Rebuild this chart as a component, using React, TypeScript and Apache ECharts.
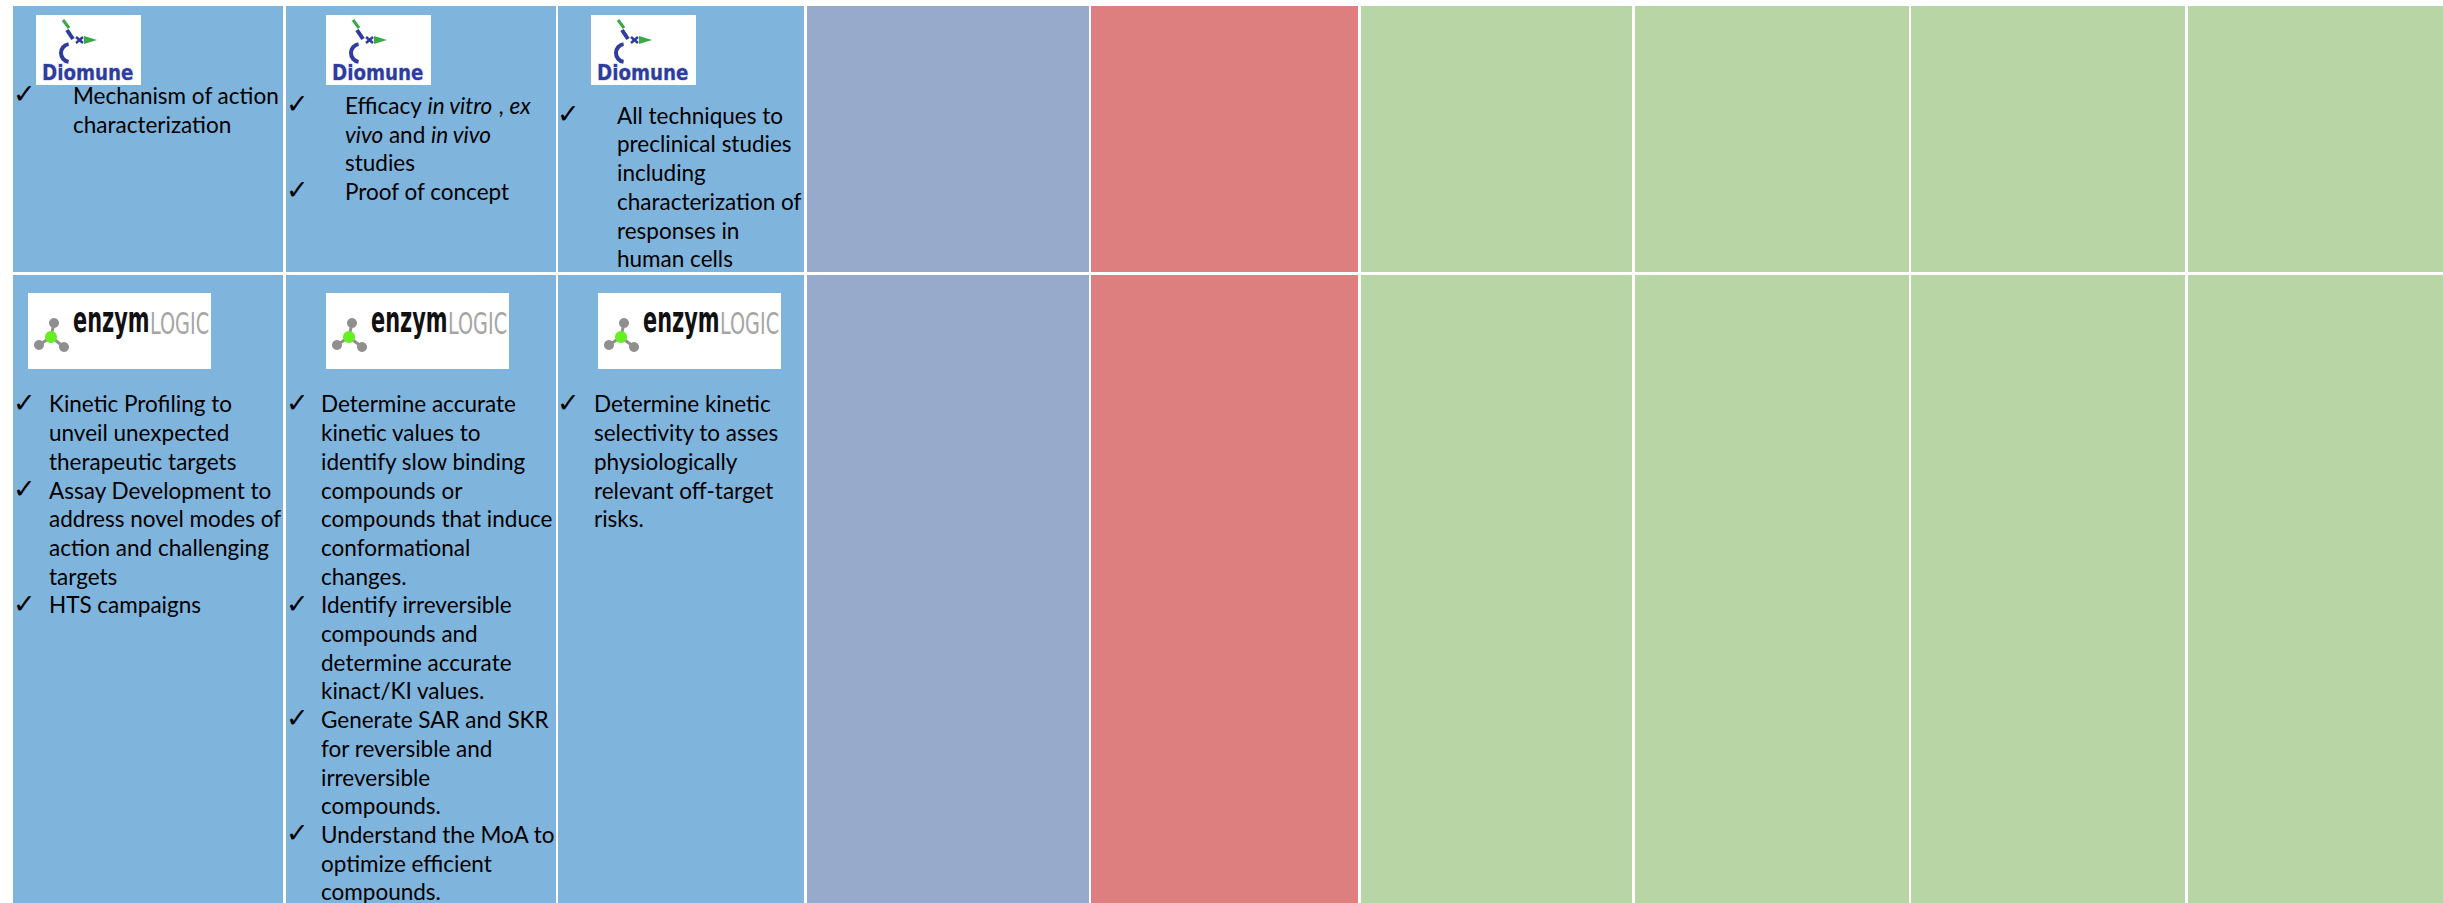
import React, { useEffect, useRef } from "react";
import * as echarts from "echarts";

// ---------- content ----------
const columnTones = ["blue", "blue", "blue", "lavender", "red", "green", "green", "green", "green"];

// each cell: list of bullet items, each item: list of lines ({i|..} = italic)
const diomuneCells: string[][][] = [
  [["Mechanism of action", "characterization"]],
  [
    ["Efficacy {i|in vitro} , {i|ex}", "{i|vivo} and {i|in vivo}", "studies"],
    ["Proof of concept"],
  ],
  [["All techniques to", "preclinical studies", "including", "characterization of", "responses in", "human cells"]],
];

const enzymlogicCells: string[][][] = [
  [
    ["Kinetic Profiling to", "unveil unexpected", "therapeutic targets"],
    ["Assay Development to", "address novel modes of", "action and challenging", "targets"],
    ["HTS campaigns"],
  ],
  [
    ["Determine accurate", "kinetic values to", "identify slow binding", "compounds or", "compounds that induce", "conformational", "changes."],
    ["Identify irreversible", "compounds and", "determine accurate", "kinact/KI values."],
    ["Generate SAR and SKR", "for reversible and", "irreversible", "compounds."],
    ["Understand the MoA to", "optimize efficient", "compounds."],
  ],
  [["Determine kinetic", "selectivity to asses", "physiologically", "relevant off-target", "risks."]],
];

const logoNames = ["Diomune", "enzym", "LOGIC"];

// ---------- layout / style ----------
const W = 2443;
const H = 903;
const COL_X = [13, 286, 558, 807, 1091, 1361, 1635, 1911, 2188];
const COL_W = [270, 270, 246, 282, 267, 271, 274, 274, 255];
const ROW_Y = [6, 275];
const ROW_H = [266, 640];
const FILL: Record<string, string> = {
  blue: "#7fb4dd",
  lavender: "#97aacb",
  red: "#de7f7f",
  green: "#b8d6a5",
};
const BODY_FONT = "Lato";
const FS = 22.5;
const STEP = 28.7;
const CENTRAL = 0.387 * FS;

const ROW1 = { textX: [73, 345, 617], checkX: [13, 286, 557], base: [104.3, 114.3, 124] };
const ROW2 = { textX: [49, 321, 594], checkX: [13, 286, 557], base: [412.7, 412.7, 412.7] };
const DIO_LOGO = { x: [36, 326, 591], y: 15 };
const ENZ_LOGO = { x: [28, 326, 598], y: 293 };

function cellTexts(items: string[][], textX: number, checkX: number, base: number) {
  const out: any[] = [];
  let li = 0;
  items.forEach((lines) => {
    lines.forEach((line, k) => {
      const b = base + li * STEP;
      if (k === 0) {
        out.push({
          type: "text",
          z: 10,
          style: {
            text: "\u2713",
            x: checkX,
            y: b - 10.5,
            fontFamily: "DejaVu Sans",
            fontSize: 27,
            fill: "#000",
            align: "left",
            verticalAlign: "middle",
          },
        });
      }
      out.push({
        type: "text",
        z: 10,
        style: {
          text: line,
          x: textX,
          y: b - CENTRAL,
          fontFamily: BODY_FONT,
          fontSize: FS,
          fill: "#000",
          align: "left",
          verticalAlign: "middle",
          rich: {
            i: { fontStyle: "italic", fontFamily: BODY_FONT, fontSize: FS, fill: "#000" },
          },
        },
      });
      li++;
    });
  });
  return out;
}

function diomuneLogo(x: number, y: number) {
  const blue = "#2e3c9e";
  const green = "#3aa845";
  const Z = 6;
  return {
    type: "group",
    x,
    y,
    children: [
      { type: "rect", z: Z, shape: { x: 0, y: 0, width: 105, height: 70 }, style: { fill: "#ffffff" } },
      { type: "line", z: Z + 1, shape: { x1: 27, y1: 5, x2: 33, y2: 13 }, style: { stroke: green, lineWidth: 3 } },
      { type: "line", z: Z + 1, shape: { x1: 31, y1: 15, x2: 37, y2: 24 }, style: { stroke: blue, lineWidth: 4 } },
      { type: "line", z: Z + 1, shape: { x1: 40, y1: 22, x2: 47, y2: 28 }, style: { stroke: blue, lineWidth: 2.5 } },
      { type: "line", z: Z + 1, shape: { x1: 47, y1: 22, x2: 40, y2: 28 }, style: { stroke: blue, lineWidth: 2.5 } },
      { type: "polygon", z: Z + 1, shape: { points: [[48, 21], [61, 25], [48, 29]] }, style: { fill: green } },
      {
        type: "arc",
        z: Z + 1,
        shape: { cx: 34, cy: 38, r: 9, startAngle: Math.PI * 0.55, endAngle: Math.PI * 1.45 },
        style: { stroke: blue, lineWidth: 4, fill: "none" },
      },
      {
        type: "text",
        z: Z + 1,
        x: 6,
        y: 58,
        scaleX: 0.87,
        style: {
          text: logoNames[0],
          x: 0,
          y: 0,
          fontFamily: "DejaVu Sans",
          fontWeight: "bold",
          fontSize: 21,
          fill: blue,
          stroke: "#c3ccf2",
          lineWidth: 1,
          align: "left",
          verticalAlign: "middle",
        },
      },
    ],
  };
}

function enzymLogo(x: number, y: number) {
  const gray = "#8f8f8f";
  const Z = 6;
  return {
    type: "group",
    x,
    y,
    children: [
      { type: "rect", z: Z, shape: { x: 0, y: 0, width: 183, height: 76 }, style: { fill: "#ffffff" } },
      { type: "line", z: Z + 1, shape: { x1: 23, y1: 44, x2: 26, y2: 30 }, style: { stroke: gray, lineWidth: 3 } },
      { type: "line", z: Z + 1, shape: { x1: 23, y1: 44, x2: 11, y2: 52 }, style: { stroke: gray, lineWidth: 3 } },
      { type: "line", z: Z + 1, shape: { x1: 23, y1: 44, x2: 36, y2: 54 }, style: { stroke: gray, lineWidth: 3 } },
      { type: "circle", z: Z + 2, shape: { cx: 26, cy: 30, r: 5 }, style: { fill: gray } },
      { type: "circle", z: Z + 2, shape: { cx: 11, cy: 52, r: 5 }, style: { fill: gray } },
      { type: "circle", z: Z + 2, shape: { cx: 36, cy: 54, r: 5 }, style: { fill: gray } },
      { type: "circle", z: Z + 3, shape: { cx: 23, cy: 44, r: 6 }, style: { fill: "#66ee22" } },
      {
        type: "text",
        z: Z + 1,
        x: 45,
        y: 27,
        scaleX: 0.58,
        style: {
          text: logoNames[1],
          x: 0,
          y: 0,
          fontFamily: "DejaVu Sans",
          fontWeight: "bold",
          fontSize: 36,
          fill: "#111111",
          align: "left",
          verticalAlign: "middle",
        },
      },
      {
        type: "text",
        z: Z + 2,
        x: 122,
        y: 30.5,
        scaleX: 0.64,
        style: {
          text: logoNames[2],
          x: 0,
          y: 0,
          fontFamily: "DejaVu Sans",
          fontSize: 30,
          fill: "#a5a5a5",
          align: "left",
          verticalAlign: "middle",
        },
      },
    ],
  };
}

export default function App() {
  const ref = useRef<HTMLDivElement>(null);
  useEffect(() => {
    if (!ref.current) return;
    const chart = echarts.init(ref.current, undefined, { renderer: "svg", width: W, height: H });
    const graphic: any[] = [];
    // background
    graphic.push({ type: "rect", z: 0, shape: { x: 0, y: 0, width: W, height: H }, style: { fill: "#ffffff" } });
    // cells
    for (let r = 0; r < 2; r++) {
      columnTones.forEach((tone, c) => {
        graphic.push({
          type: "rect",
          z: 1,
          shape: { x: COL_X[c], y: ROW_Y[r], width: COL_W[c], height: ROW_H[r] },
          style: { fill: FILL[tone] },
        });
      });
    }
    // logos
    DIO_LOGO.x.forEach((lx) => graphic.push(diomuneLogo(lx, DIO_LOGO.y)));
    ENZ_LOGO.x.forEach((lx) => graphic.push(enzymLogo(lx, ENZ_LOGO.y)));
    // texts
    diomuneCells.forEach((items, c) => {
      graphic.push(...cellTexts(items, ROW1.textX[c], ROW1.checkX[c], ROW1.base[c]));
    });
    enzymlogicCells.forEach((items, c) => {
      graphic.push(...cellTexts(items, ROW2.textX[c], ROW2.checkX[c], ROW2.base[c]));
    });
    chart.setOption({ animation: false, graphic });
    return () => chart.dispose();
  }, []);
  return (
    <div
      ref={ref}
      style={{ position: "absolute", left: 0, top: 0, width: W, height: H, overflow: "hidden" }}
    />
  );
}
